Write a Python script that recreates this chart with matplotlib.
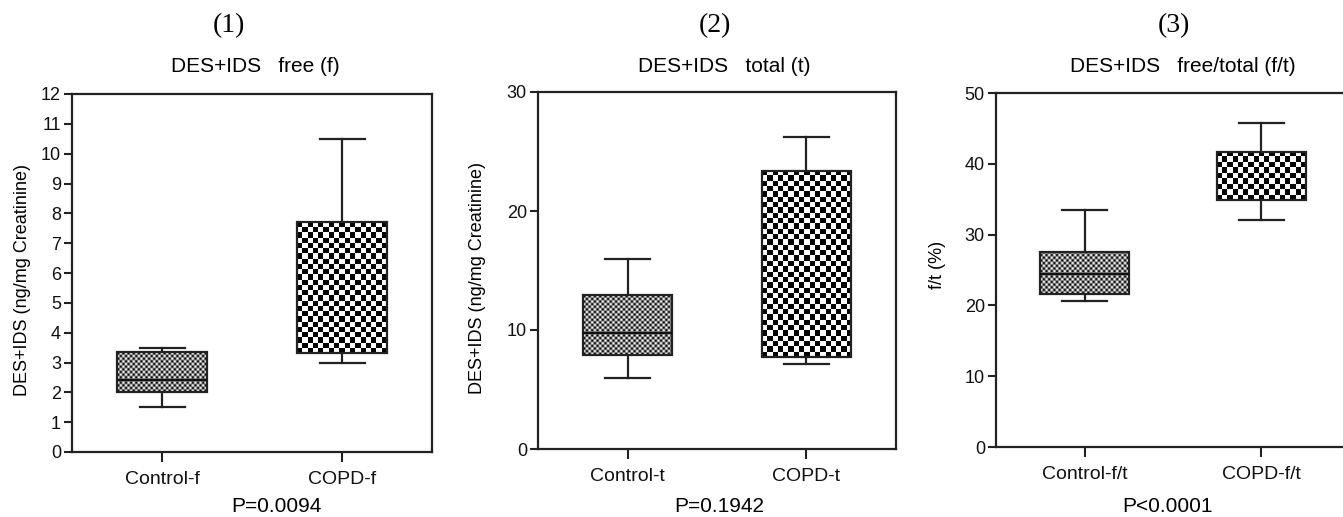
import numpy as np
import matplotlib
matplotlib.use('Agg')
import matplotlib.pyplot as plt

W, H = 1343, 517

# panel (1) free
cats_f = ['Control-f', 'COPD-f']
lo_f = [1.51, 2.98]
q1_f = [2.01, 3.31]
med_f = [2.42, 3.6]
q3_f = [3.34, 7.70]
hi_f = [3.50, 10.48]

# panel (2) total
cats_t = ['Control-t', 'COPD-t']
lo_t = [5.93, 7.11]
q1_t = [7.89, 7.70]
med_t = [9.71, 11.53]
q3_t = [12.93, 23.40]
hi_t = [15.98, 26.20]

# panel (3) free/total
cats_ft = ['Control-f/t', 'COPD-f/t']
lo_ft = [20.6, 32.1]
q1_ft = [21.6, 34.9]
med_ft = [24.5, 38.0]
q3_ft = [27.6, 41.7]
hi_ft = [33.5, 45.7]

panels = [
    dict(num='(1)', title='DES+IDS   free (f)', ylabel='DES+IDS (ng/mg Creatinine)',
         p='P=0.0094', cats=cats_f, lo=lo_f, q1=q1_f, med=med_f, q3=q3_f, hi=hi_f,
         ylim=12, yticks=np.arange(0, 13, 1),
         box=(72, 432, 94, 452), numx=229, titlex=255, px=276, ylx=23, yly=280),
    dict(num='(2)', title='DES+IDS   total (t)', ylabel='DES+IDS (ng/mg Creatinine)',
         p='P=0.1942', cats=cats_t, lo=lo_t, q1=q1_t, med=med_t, q3=q3_t, hi=hi_t,
         ylim=30, yticks=[0, 10, 20, 30],
         box=(538, 896, 92, 449), numx=715, titlex=724, px=719, ylx=478, yly=278),
    dict(num='(3)', title='DES+IDS   free/total (f/t)', ylabel='f/t (%)',
         p='P<0.0001', cats=cats_ft, lo=lo_ft, q1=q1_ft, med=med_ft, q3=q3_ft, hi=hi_ft,
         ylim=50, yticks=[0, 10, 20, 30, 40, 50],
         box=(996, 1350, 93, 447), numx=1174, titlex=1183, px=1168, ylx=938, yly=265),
]

EDGE = '#222222'
SANS = 'Liberation Sans'


def add_checker(ax, x0, x1, y0, y1, cell_px, dark):
    p0 = ax.transData.transform((x0, y0))
    p1 = ax.transData.transform((x1, y1))
    nx = max(1, int(round(abs(p1[0] - p0[0]) / cell_px)))
    ny = max(1, int(round(abs(p1[1] - p0[1]) / cell_px)))
    ii, jj = np.indices((ny, nx))
    board = ((ii + jj) % 2).astype(float)
    img = np.where(board[..., None] > 0, np.array([1.0, 1.0, 1.0]), np.array([dark, dark, dark]))
    ax.imshow(img, extent=(x0, x1, y0, y1), origin='lower', aspect='auto',
              interpolation='antialiased', zorder=2)


fig = plt.figure(figsize=(W / 100, H / 100), dpi=100)

for pn in panels:
    l, r, t, b = pn['box']
    ax = fig.add_axes([l / W, 1 - b / H, (r - l) / W, (b - t) / H])
    ax.set_xlim(0.5, 2.5)
    ax.set_ylim(0, pn['ylim'])
    for s in ax.spines.values():
        s.set_linewidth(1.6)
        s.set_color(EDGE)
    ax.set_yticks(pn['yticks'])
    ax.set_yticklabels([str(v) for v in pn['yticks']], family=SANS, fontsize=13, color='#111111')
    ax.set_xticks([1, 2])
    ax.set_xticklabels(pn['cats'], family=SANS, fontsize=14, color='#111111')
    ax.tick_params(axis='y', direction='out', length=6, width=1.5, color=EDGE, pad=2)
    ax.tick_params(axis='x', direction='out', length=7, width=1.5, color=EDGE, pad=7)

    stats = []
    for i in range(2):
        stats.append(dict(med=pn['med'][i], q1=pn['q1'][i], q3=pn['q3'][i],
                          whislo=pn['lo'][i], whishi=pn['hi'][i], fliers=[]))
    art = ax.bxp(stats, positions=[1, 2], widths=0.5, showfliers=False, patch_artist=True,
                 capwidths=0.25,
                 boxprops=dict(facecolor='white', edgecolor=EDGE, linewidth=1.6),
                 whiskerprops=dict(color=EDGE, linewidth=1.6),
                 capprops=dict(color=EDGE, linewidth=1.6),
                 medianprops=dict(color='#111111', linewidth=1.6, zorder=3),
                 manage_ticks=False)
    for bx in art['boxes']:
        bx.set_zorder(3)
        bx.set_facecolor('none')
    # the COPD median sits under the coarse checker, as in the original
    art['medians'][1].set_zorder(1.5)

    # checkered box fills: fine for control, coarse for COPD
    add_checker(ax, 0.75, 1.25, pn['q1'][0], pn['q3'][0], 2.6, 0.0)
    add_checker(ax, 1.75, 2.25, pn['q1'][1], pn['q3'][1], 5.3, 0.0)
    ax.set_xlim(0.5, 2.5)
    ax.set_ylim(0, pn['ylim'])

    fig.text(pn['numx'] / W, 1 - 26 / H, pn['num'], family='Liberation Serif',
             fontsize=20, ha='center', va='center')
    fig.text(pn['titlex'] / W, 1 - 67 / H, pn['title'], family=SANS,
             fontsize=15, ha='center', va='center')
    fig.text(pn['px'] / W, 1 - 507 / H, pn['p'], family=SANS,
             fontsize=15, ha='center', va='center')
    fig.text(pn['ylx'] / W, 1 - pn['yly'] / H, pn['ylabel'], family=SANS,
             fontsize=13, ha='center', va='center', rotation=90)

fig.savefig('out.png', dpi=100)
